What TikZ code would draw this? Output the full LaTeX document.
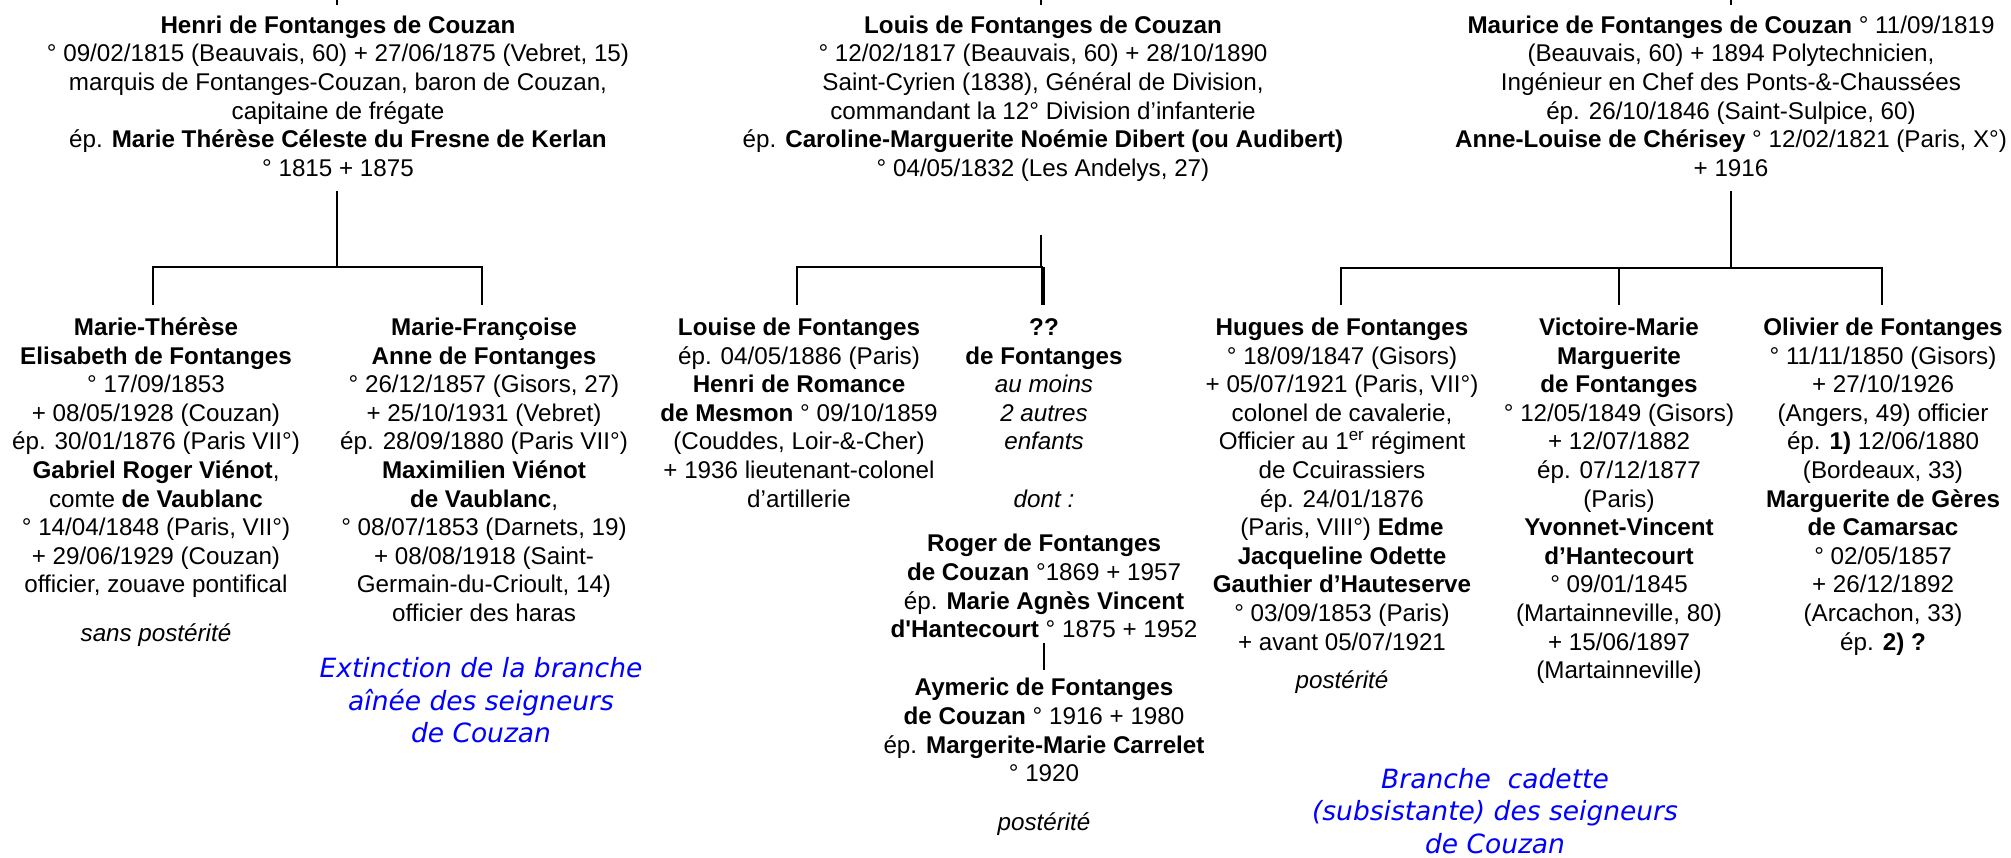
\documentclass[tikz,border=0pt]{standalone}
\usepackage{fontspec}
\setmainfont{Liberation Sans}
\newfontfamily\rawfont{Liberation Sans}
\newfontfamily\bluefont{DejaVu Sans}
\newcommand{\firstln}{\rule{0pt}{18pt}}
\newcommand{\firstbl}{\rule{0pt}{20pt}}
\begin{document}
\begin{tikzpicture}[x=1pt,y=-1pt,
  person/.style={anchor=north, inner sep=0pt, align=center, font=\fontsize{24.2}{28.6}\selectfont},
  bluenote/.style={anchor=north, inner sep=0pt, align=center, text=blue, font=\bluefont\itshape\fontsize{26.5}{32.5}\selectfont},
  tree/.style={line width=2.2pt},
  thinline/.style={line width=1.3pt},
  thickline/.style={line width=4pt}]
\useasboundingbox (0,0) rectangle (2011,857);

% ---- parents ----
\node[person] (henri) at (338,15) {\firstln\textbf{Henri de Fontanges de Couzan}\\
° 09/02/1815 (Beauvais, 60) + 27/06/1875 (Vebret, 15)\\
marquis de Fontanges-Couzan, baron de Couzan,\\
capitaine de frégate\\
ép. \textbf{Marie Thérèse Céleste du Fresne de Kerlan}\\
° 1815 + 1875};

\node[person] (louis) at (1043,15) {\firstln\textbf{Louis de Fontanges de Couzan}\\
° 12/02/1817 (Beauvais, 60) + 28/10/1890\\
Saint-Cyrien (1838), Général de Division,\\
commandant la 12° Division d’infanterie\\
ép. \textbf{Caroline-Marguerite Noémie Dibert (ou Audibert)}\\
° 04/05/1832 (Les Andelys, 27)};

\node[person] (maurice) at (1731,15) {\firstln\textbf{Maurice de Fontanges de Couzan} ° 11/09/1819\\
(Beauvais, 60) + 1894 Polytechnicien,\\
Ingénieur en Chef des Ponts-\&-Chaussées\\
ép. 26/10/1846 (Saint-Sulpice, 60)\\
\textbf{Anne-Louise de Chérisey} ° 12/02/1821 (Paris, X°)\\
+ 1916};

% ---- children ----
\node[person] (mt) at (156,317.3) {\firstln\textbf{Marie-Thérèse}\\
\textbf{Elisabeth de Fontanges}\\
° 17/09/1853\\
+ 08/05/1928 (Couzan)\\
ép. 30/01/1876 (Paris VII°)\\
\textbf{Gabriel Roger Viénot},\\
comte \textbf{de Vaublanc}\\
° 14/04/1848 (Paris, VII°)\\
+ 29/06/1929 (Couzan)\\
officier, zouave pontifical\\[20pt]
\textit{sans postérité}};

\node[person] (mf) at (484,317.3) {\firstln\textbf{Marie-Françoise}\\
\textbf{Anne de Fontanges}\\
° 26/12/1857 (Gisors, 27)\\
+ 25/10/1931 (Vebret)\\
ép. 28/09/1880 (Paris VII°)\\
\textbf{Maximilien Viénot}\\
\textbf{de Vaublanc},\\
° 08/07/1853 (Darnets, 19)\\
+ 08/08/1918 (Saint-\\
Germain-du-Crioult, 14)\\
officier des haras};

\node[bluenote] (ext) at (481,657.5) {\firstbl Extinction de la branche\\
aînée des seigneurs\\
de Couzan};

\node[person] (louise) at (799,317.3) {\firstln\textbf{Louise de Fontanges}\\
ép. 04/05/1886 (Paris)\\
\textbf{Henri de Romance}\\
\textbf{de Mesmon} ° 09/10/1859\\
(Couddes, Loir-\&-Cher)\\
+ 1936 lieutenant-colonel\\
d’artillerie};

\node[person] (qq) at (1044,317.3) {\firstln\textbf{??}\\
\textbf{de Fontanges}\\
\textit{au moins}\\
\textit{2 autres}\\
\textit{enfants}\\[28.6pt]
\textit{dont :}};

\node[person] (roger) at (1044,533.6) {\firstln\textbf{Roger de Fontanges}\\
\textbf{de Couzan} °1869 + 1957\\
ép. \textbf{Marie Agnès Vincent}\\
\textbf{{\rawfont d'Hantecourt}} ° 1875 + 1952};

\node[person] (aymeric) at (1044,677.6) {\firstln\textbf{Aymeric de Fontanges}\\
\textbf{de Couzan} ° 1916 + 1980\\
ép. \textbf{Margerite-Marie Carrelet}\\
° 1920\\[20pt]
\textit{postérité}};

\node[person] (hugues) at (1342,317.3) {\firstln\textbf{Hugues de Fontanges}\\
° 18/09/1847 (Gisors)\\
+ 05/07/1921 (Paris, VII°)\\
colonel de cavalerie,\\
Officier au 1\textsuperscript{er} régiment\\
de Ccuirassiers\\
ép. 24/01/1876\\
(Paris, VIII°) \textbf{Edme}\\
\textbf{Jacqueline Odette}\\
\textbf{Gauthier d’Hauteserve}\\
° 03/09/1853 (Paris)\\
+ avant 05/07/1921\\[10pt]
\textit{postérité}};

\node[person] (victoire) at (1619,317.3) {\firstln\textbf{Victoire-Marie}\\
\textbf{Marguerite}\\
\textbf{de Fontanges}\\
° 12/05/1849 (Gisors)\\
+ 12/07/1882\\
ép. 07/12/1877\\
(Paris)\\
\textbf{Yvonnet-Vincent}\\
\textbf{d’Hantecourt}\\
° 09/01/1845\\
(Martainneville, 80)\\
+ 15/06/1897\\
(Martainneville)};

\node[person] (olivier) at (1883,317.3) {\firstln\textbf{Olivier de Fontanges}\\
° 11/11/1850 (Gisors)\\
+ 27/10/1926\\
(Angers, 49) officier\\
ép. \textbf{1)} 12/06/1880\\
(Bordeaux, 33)\\
\textbf{Marguerite de Gères}\\
\textbf{de Camarsac}\\
° 02/05/1857\\
+ 26/12/1892\\
(Arcachon, 33)\\
ép. \textbf{2) ?}};

\node[bluenote] (cad) at (1495,768) {\firstbl Branche\ \ cadette\\
(subsistante) des seigneurs\\
de Couzan};

% ---- junction coordinates ----
\coordinate (hS0) at (337,0);   \coordinate (hS1) at (337,5);
\coordinate (lS0) at (1041,0);  \coordinate (lS1) at (1041,5);
\coordinate (mS0) at (1731,0);  \coordinate (mS1) at (1731,5);

\coordinate (hD) at (337,191);  \coordinate (hM) at (337,267);
\coordinate (hL) at (153,267);  \coordinate (hR) at (482,267);
\coordinate (mtJ) at (153,305); \coordinate (mfJ) at (482,305);

\coordinate (lD) at (1041,235); \coordinate (lM) at (1041,267);
\coordinate (lL) at (797,267);  \coordinate (lR) at (1043,267);
\coordinate (louJ) at (797,305); \coordinate (qqJ) at (1043,305);

\coordinate (mD) at (1731,191); \coordinate (mM) at (1731,268);
\coordinate (mL) at (1341,268); \coordinate (mR) at (1882,268);
\coordinate (mC) at (1619,268);
\coordinate (huJ) at (1341,305); \coordinate (viJ) at (1619,305); \coordinate (olJ) at (1882,305);

\coordinate (rB) at (1044,643); \coordinate (aT) at (1044,670);

% ---- connectors ----
\draw[tree] (hS0) -- (hS1);
\draw[tree] (lS0) -- (lS1);
\draw[tree] (mS0) -- (mS1);

\draw[tree] (hD) -- (hM);
\draw[tree] (mtJ) -- (hL) -- (hR) -- (mfJ);

\draw[thinline] (lD) -- (lM);
\draw[tree] (louJ) -- (lL) -- (lR);
\draw[thickline] (lR) -- (qqJ);

\draw[tree] (mD) -- (mM);
\draw[tree] (huJ) -- (mL) -- (mR) -- (olJ);
\draw[tree] (mC) -- (viJ);

\draw[tree] (rB) -- (aT);
\end{tikzpicture}
\end{document}
